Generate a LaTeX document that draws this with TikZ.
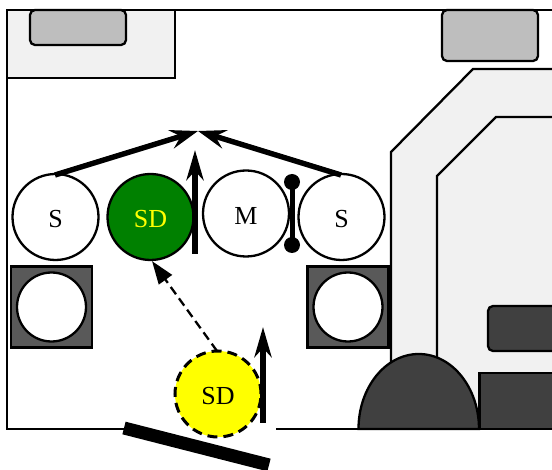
\documentclass[tikz,border=0pt]{standalone}
\usepackage{fontspec}
\setmainfont{Liberation Serif}
\usetikzlibrary{arrows.meta}
\definecolor{roomfill}{HTML}{F1F1F1}
\definecolor{padgray}{HTML}{BEBEBE}
\definecolor{darkfill}{HTML}{404040}
\definecolor{boxfill}{HTML}{595959}
\definecolor{sdgreen}{HTML}{008000}
\definecolor{sdyellow}{HTML}{FFFF00}
\tikzset{
  x=1pt,y=-1pt,
  wall/.style={draw=black,line width=2.3pt,line join=miter},
  roomshape/.style={wall,fill=roomfill},
  padshape/.style={wall,fill=padgray,rounded corners=5pt},
  darkshape/.style={wall,fill=darkfill},
  drum/.style={circle,draw=black,line width=2.3pt,fill=white,minimum size=86pt,inner sep=0pt},
  drumtext/.style={font=\fontsize{26}{26}\selectfont,yshift=-2pt},
  hole/.style={circle,draw=black,line width=2.3pt,fill=white,minimum size=69pt,inner sep=0pt},
  boxshape/.style={rectangle,draw=black,line width=2.3pt,fill=boxfill,minimum width=81pt,minimum height=81pt,inner sep=0pt},
  bigarrow/.style={line width=5.4pt,-{Stealth[length=28pt,width=19pt,inset=10pt]}},
  uparrow/.style={line width=5.4pt,-{Stealth[length=30pt,width=17pt,inset=9pt]}},
  dasharrow/.style={line width=2.3pt,dash pattern=on 9pt off 5pt,-{Stealth[length=23pt,width=16pt,inset=0pt]}},
  pin/.style={circle,fill=black,draw=none,minimum size=16pt,inner sep=0pt,outer sep=0pt},
}
\begin{document}
\begin{tikzpicture}
\useasboundingbox (0,0) rectangle (552,470);
\fill[white] (0,0) rectangle (552,470);
% top-left room
\draw[roomshape] (7,10) rectangle (175,78);
\draw[padshape] (30,10) rectangle (126,45);
\draw[padshape] (442,10) rectangle (538,61);
% right building
\fill[roomfill] (391,429) -- (391,152) -- (473,69) -- (552,69) -- (552,429) -- cycle;
\draw[wall] (391,429) -- (391,152) -- (473,69) -- (552,69);
\draw[wall] (437,429) -- (437,176) -- (496,117) -- (552,117);
% frame
\draw[wall] (552,10) -- (7,10) -- (7,429) -- (125,429);
\draw[wall] (276,429) -- (552,429);
% dark machinery
\draw[darkshape] (358.5,429) arc[start angle=180,end angle=0,x radius=60.25pt,y radius=75pt] -- cycle;
\draw[darkshape] (479.5,373) rectangle (560,429);
\draw[darkshape,rounded corners=5pt] (488,306) rectangle (565,351);
% boxes with round holes
\node[boxshape] (boxl) at (51.5,307) {};
\node[hole] (holel) at (51.5,307) {};
\node[boxshape] (boxr) at (348,307) {};
\node[hole] (holer) at (348,307) {};
% drums
\node[drum,label={[drumtext]center:S}] (sl) at (55.5,217) {};
\node[drum,fill=sdgreen,label={[drumtext,text=sdyellow]center:SD}] (sdg) at (150.5,217) {};
\node[drum,label={[drumtext]center:M}] (m) at (246,213.5) {};
\node[drum,label={[drumtext]center:S}] (sr) at (341.5,217) {};
\node[drum,fill=sdyellow,dash pattern=on 10pt off 6pt,line width=3pt,label={[drumtext]center:SD}] (sdy) at (218,394) {};
% arrows
\coordinate (apex) at (198,131);
\coordinate (stl) at (55,175);
\coordinate (str) at (341,175);
\draw[bigarrow] (stl) -- (apex);
\draw[bigarrow] (str) -- (apex);
\coordinate (upa) at (195,254);
\coordinate (upb) at (195,150);
\draw[uparrow] (upa) -- (upb);
\coordinate (upc) at (263,423);
\coordinate (upd) at (263,327);
\draw[uparrow] (upc) -- (upd);
\coordinate (dstart) at (217,351);
\draw[dasharrow] (dstart) -- (sdg.-88);
% pin bar
\node[pin] (pa) at (292,182) {};
\node[pin] (pb) at (292,245) {};
\draw[line width=5pt] (pa.center) -- (pb.center);
% door
\coordinate (da) at (124,428);
\coordinate (db) at (269,465);
\draw[line width=13pt] (da) -- (db);
\end{tikzpicture}
\end{document}
